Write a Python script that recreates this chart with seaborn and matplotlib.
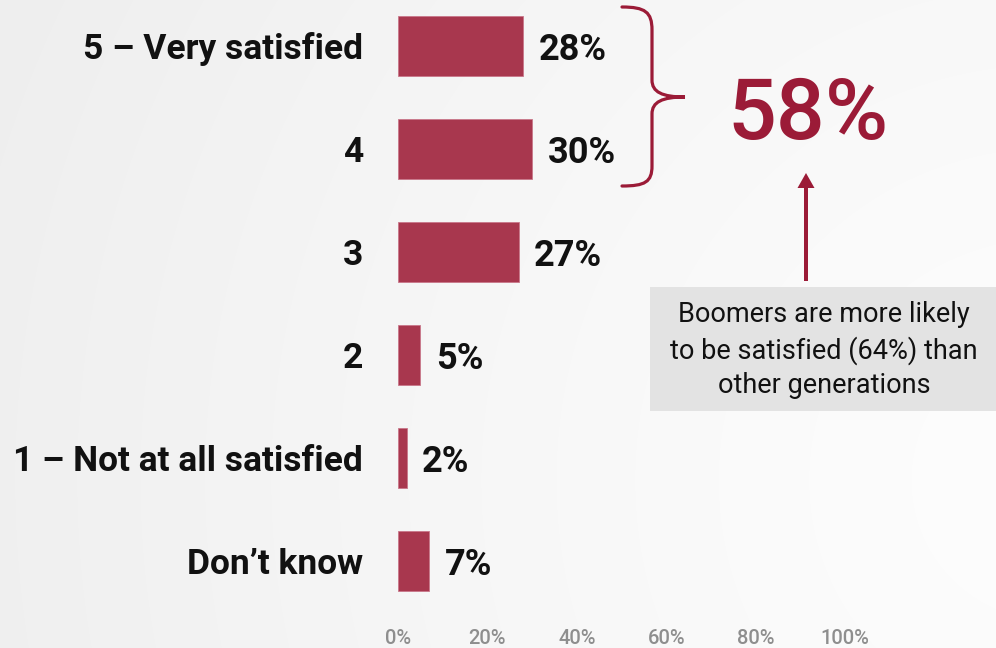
import numpy as np
import pandas as pd
import matplotlib
matplotlib.use("Agg")
import matplotlib.pyplot as plt
import matplotlib.transforms as mtransforms
from matplotlib.path import Path
from matplotlib.patches import PathPatch, Rectangle
import seaborn as sns

categories = ["5 – Very satisfied", "4", "3", "2", "1 – Not at all satisfied", "Don’t know"]
values = [28, 30, 27, 5, 2, 7]
value_labels = ["28%", "30%", "27%", "5%", "2%", "7%"]
x_ticks = [0, 20, 40, 60, 80, 100]
x_tick_labels = ["0%", "20%", "40%", "60%", "80%", "100%"]
total_label = "58%"
note_text = "Boomers are more likely\nto be satisfied (64%) than\nother generations"

BAR = "#A8374E"
ACCENT = "#9B1B37"

sns.set_theme(style="white")
plt.rcParams["font.family"] = ["Roboto", "DejaVu Sans"]

W, H = 996, 648
fig = plt.figure(figsize=(W / 100, H / 100), dpi=100)

# background gradient
bg = fig.add_axes([0, 0, 1, 1], zorder=-10)
yy, xx = np.mgrid[0:H, 0:W]
d = np.sqrt((xx - 1050) ** 2 + (yy - 480) ** 2) / 1100.0
shade = 0.992 - 0.055 * np.clip(d, 0, 1) ** 1.3
bg.imshow(np.dstack([shade] * 3), extent=[0, 1, 0, 1], aspect="auto", origin="upper")
bg.set_axis_off()

# main axes: 0% at px 398, 100% at px 845; rows 103 px apart, first at px 46
ax_left, ax_right = 398 / W, 845 / W
ax_bottom_px = 612.5
ax = fig.add_axes([ax_left, 1 - ax_bottom_px / H, ax_right - ax_left, ax_bottom_px / H])
ax.set_facecolor("none")

df = pd.DataFrame({"category": categories, "value": values})
sns.barplot(data=df, x="value", y="category", orient="h", color=BAR, width=0.59,
            edgecolor="#c9778a", linewidth=0.6, saturation=1, ax=ax)
ax.set_xlim(0, 100)
ax.set_ylim(5.5, -0.5 + 5.5 / 103)
ax.set_xlabel("")
ax.set_ylabel("")
for s in ax.spines.values():
    s.set_visible(False)

ax.set_xticks(x_ticks)
ax.set_xticklabels(x_tick_labels, fontsize=14.5, color="#8e8e8e", fontweight="medium")
ax.tick_params(axis="x", length=0, pad=12)
ax.set_yticks(range(len(categories)))
ax.set_yticklabels(categories, fontsize=25.5, color="#111111", fontweight="bold")
ax.tick_params(axis="y", length=0, pad=25)

ax.bar_label(ax.containers[0], labels=value_labels, padding=11, fontsize=26,
             fontweight="bold", color="#111111")
for t in ax.texts:
    t.set_va("center_baseline")

# pixel transform (origin top-left)
px = mtransforms.Affine2D().scale(1 / W, -1 / H).translate(0, 1) + fig.transFigure

# brace
verts = [
    (622, 7), (645, 7), (652, 12), (652, 30),
    (652, 80),
    (652, 92), (662, 97), (685, 97),
    (662, 97), (652, 102), (652, 114),
    (652, 166),
    (652, 182), (645, 186), (622, 186),
]
codes = [Path.MOVETO, Path.CURVE4, Path.CURVE4, Path.CURVE4,
         Path.LINETO,
         Path.CURVE4, Path.CURVE4, Path.CURVE4,
         Path.CURVE4, Path.CURVE4, Path.CURVE4,
         Path.LINETO,
         Path.CURVE4, Path.CURVE4, Path.CURVE4]
fig.patches.append(PathPatch(Path(verts, codes), transform=px, facecolor="none",
                             edgecolor=ACCENT, linewidth=2.3, capstyle="round"))

fig.text(808, 107, total_label, transform=px, ha="center", va="center_baseline",
         fontsize=62, color=ACCENT, fontweight="medium")

# arrow
fig.patches.append(matplotlib.patches.FancyArrow(
    806, 281, 0, -108, width=4, head_width=17, head_length=15,
    length_includes_head=True, transform=px, color=ACCENT, linewidth=0))

# note box
fig.patches.append(Rectangle((650, 287), 346, 124, transform=px,
                             facecolor="#e3e3e3", edgecolor="none"))
fig.text(824, 350, note_text, transform=px, ha="center", va="center",
         fontsize=19.5, color="#111111", linespacing=1.36)

fig.savefig("out.png", dpi=100)
